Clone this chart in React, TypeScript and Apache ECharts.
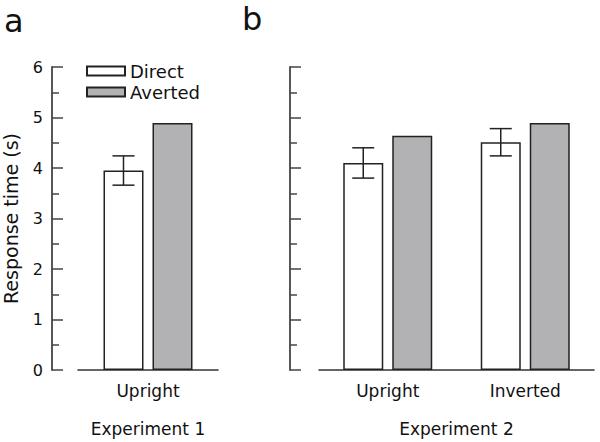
import React, { useEffect, useRef } from "react";
import * as echarts from "echarts";

const exp1Categories = ["Upright"];
const exp2Categories = ["Upright", "Inverted"];
const exp1Direct = [3.95];
const exp1DirectErr = [0.29];
const exp1Averted = [4.89];
const exp2Direct = [4.1, 4.51];
const exp2DirectErr = [0.3, 0.27];
const exp2Averted = [4.64, 4.89];
const yTicks = { min: 0, max: 6, interval: 1 };
const seriesNames = ["Direct", "Averted"];
const axisNames = ["Experiment 1", "Experiment 2"];
const yTitle = "Response time (s)";
const panelLetters = ["a", "b"];

const FONT = "DejaVu Sans, Liberation Sans, Arial, sans-serif";
const INK = "#222";
const GRAY = "#b2b2b4";
const BAR_W = 40;
const BAR_GAP_PX = 9;

export default function App() {
  const ref = useRef<HTMLDivElement>(null);
  useEffect(() => {
    if (!ref.current) return;
    const chart = echarts.init(ref.current, null, { renderer: "svg" });
    const offset = -(BAR_W + BAR_GAP_PX) / 2;
    const errRender = (params: any, api: any) => {
      const idx = api.value(0);
      const mean = api.value(1);
      const err = api.value(2);
      const c = api.coord([idx, mean]);
      const x = c[0] + offset;
      const yTop = api.coord([idx, mean + err])[1];
      const yBot = api.coord([idx, mean - err])[1];
      const hw = 11;
      const st = { stroke: INK, lineWidth: 1.5 };
      return {
        type: "group",
        children: [
          { type: "line", shape: { x1: x, y1: yTop, x2: x, y2: yBot }, style: st },
          { type: "line", shape: { x1: x - hw, y1: yTop, x2: x + hw, y2: yTop }, style: st },
          { type: "line", shape: { x1: x - hw, y1: yBot, x2: x + hw, y2: yBot }, style: st },
        ],
      };
    };
    const xAxisCommon = (cats: string[], name: string, idx: number) => ({
      type: "category",
      gridIndex: idx,
      data: cats,
      name,
      nameLocation: "middle",
      nameGap: 50,
      nameTextStyle: { fontFamily: FONT, fontSize: 17, color: "#111" },
      axisLine: { show: true, lineStyle: { color: "#333", width: 1.5 } },
      axisTick: { show: false },
      axisLabel: { fontFamily: FONT, fontSize: 17, color: "#111", margin: 12 },
      splitLine: { show: false },
    });
    const yAxisCommon = (idx: number, offsetPx: number, showLabels: boolean) => ({
      type: "value",
      gridIndex: idx,
      min: yTicks.min,
      max: yTicks.max,
      interval: yTicks.interval,
      offset: offsetPx,
      name: showLabels ? yTitle : "",
      nameLocation: "middle",
      nameGap: 32,
      nameMoveOverlap: false,
      nameTextStyle: { fontFamily: FONT, fontSize: 19, color: "#111" },
      axisLine: { show: true, lineStyle: { color: "#444", width: 1.8 } },
      axisTick: { show: true, inside: true, length: 11, lineStyle: { color: "#444", width: 1.5 } },
      minorTick: { show: true, splitNumber: 2, length: 7, lineStyle: { color: "#444", width: 1.5 } },
      axisLabel: { show: showLabels, fontFamily: FONT, fontSize: 16, color: "#111", margin: 9 },
      splitLine: { show: false },
      minorSplitLine: { show: false },
    });
    const barStyle = (color: string) => ({ color, borderColor: INK, borderWidth: 1.5 });
    const gap = `${(BAR_GAP_PX / BAR_W) * 100}%`;
    chart.setOption({
      animation: false,
      backgroundColor: "#fff",
      textStyle: { fontFamily: FONT },
      graphic: [
        { type: "text", left: 4, top: 5, style: { text: panelLetters[0], font: `32px ${FONT}`, fill: "#111" } },
        { type: "text", left: 242, top: 3, style: { text: panelLetters[1], font: `32px ${FONT}`, fill: "#111" } },
      ],
      legend: {
        data: seriesNames,
        orient: "vertical",
        left: 86,
        top: 62,
        padding: 0,
        icon: "rect",
        itemWidth: 38,
        itemHeight: 9,
        itemGap: 3,
        textStyle: { fontFamily: FONT, fontSize: 18, color: "#111", lineHeight: 18 },
      },
      grid: [
        { left: 78, width: 140, top: 67, height: 304 },
        { left: 319, right: 6, top: 67, height: 304 },
      ],
      xAxis: [xAxisCommon(exp1Categories, axisNames[0], 0), xAxisCommon(exp2Categories, axisNames[1], 1)],
      yAxis: [yAxisCommon(0, 26, true), yAxisCommon(1, 29, false)],
      series: [
        { name: seriesNames[0], type: "bar", xAxisIndex: 0, yAxisIndex: 0, data: exp1Direct, barWidth: BAR_W, barGap: gap, itemStyle: barStyle("#fff") },
        { name: seriesNames[1], type: "bar", xAxisIndex: 0, yAxisIndex: 0, data: exp1Averted, barWidth: BAR_W, barGap: gap, itemStyle: barStyle(GRAY) },
        { name: seriesNames[0], type: "bar", xAxisIndex: 1, yAxisIndex: 1, data: exp2Direct, barWidth: BAR_W, barGap: gap, itemStyle: barStyle("#fff") },
        { name: seriesNames[1], type: "bar", xAxisIndex: 1, yAxisIndex: 1, data: exp2Averted, barWidth: BAR_W, barGap: gap, itemStyle: barStyle(GRAY) },
        { name: "err1", type: "custom", xAxisIndex: 0, yAxisIndex: 0, z: 5, renderItem: errRender, data: exp1Direct.map((v, i) => [i, v, exp1DirectErr[i]]) },
        { name: "err2", type: "custom", xAxisIndex: 1, yAxisIndex: 1, z: 5, renderItem: errRender, data: exp2Direct.map((v, i) => [i, v, exp2DirectErr[i]]) },
      ],
    });
    return () => chart.dispose();
  }, []);
  return <div ref={ref} style={{ position: "fixed", left: 0, top: 0, width: 600, height: 442 }} />;
}
